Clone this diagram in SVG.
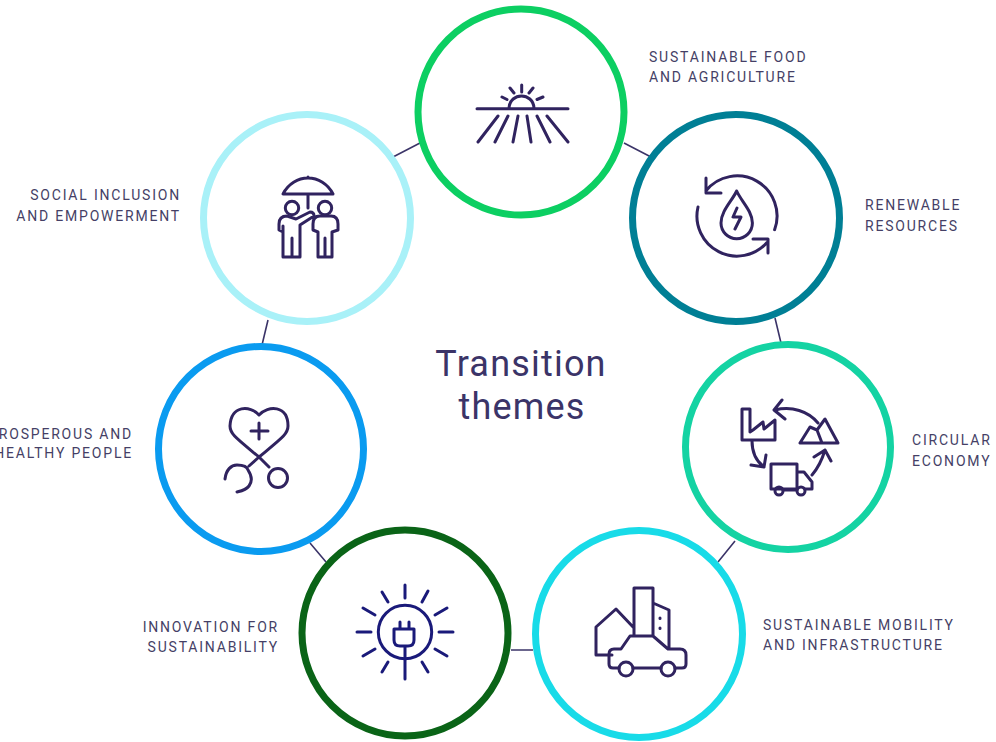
<svg xmlns="http://www.w3.org/2000/svg" width="996" height="742" viewBox="0 0 996 742">
<style>
.ring{fill:#fff;stroke-width:7}
.ic{fill:none;stroke:#30235f;stroke-width:3;stroke-linecap:round;stroke-linejoin:round}
.lb{font-family:"Roboto","Liberation Sans",sans-serif;font-size:14px;letter-spacing:1.8px;fill:#453f66}
.e{text-anchor:end}
.title{font-family:"Roboto","Liberation Sans",sans-serif;font-size:36px;letter-spacing:1.2px;fill:#3b3468;text-anchor:middle}
.conn{stroke:#3b3468;stroke-width:1.6;fill:none}
</style>
<rect width="996" height="742" fill="#fff"/>
<g id="connectors" class="conn">
<path d="M393,157L420,143M624,143L651,157M775,318L781,343M735,541L718,562M511,650L533,650M310,543L326,562M268,320L262,345"/>
</g>
<g id="food">
<circle class="ring" cx="521" cy="112" r="103" stroke="#0ccf62"/>
<path class="ic" d="M477,108.700H568M509,108C510,92 533,92 534,108M521.700,85V92M510,88L514,93M533,88L529,93M502,97L507,99.500M543,97L537,99.500M498,116L478,142M508,116L495,142M518,116L513,142M527,116L531,142M537,116L550,142M547,116L568,142"/>
<text class="lb" x="649" y="62">SUSTAINABLE FOOD</text>
<text class="lb" x="649" y="82">AND AGRICULTURE</text>
</g>
<g id="renewable">
<circle class="ring" cx="736" cy="218" r="103.500" stroke="#007f95"/>
<path class="ic" d="M774.600,229.700A40,40 0 0 0 706,190.700M706,178V193H721M698,207A40,40 0 0 0 767,242.500M753,239H768V253M736.700,191C732,201 721,211 721,223A15.700,15.700 0 0 0 752.400,223C752.400,211 741,201 736.700,191ZM737,208L733,217H741L735,229"/>
<text class="lb" x="865" y="210">RENEWABLE</text>
<text class="lb" x="865" y="231">RESOURCES</text>
</g>
<g id="circular">
<circle class="ring" cx="788" cy="447" r="102.500" stroke="#14d3a3"/>
<path class="ic" d="M750,409H742V440H775V420L764,429L763,422L753,430L750,432V409M818,423C808,411 792,406 775,410M782,400L774,410L785,419M752,441C752,452 756,461 764,467M751,465L764,467L766,455M812,475C818,468 822,460 825,450M814,457L825,450L831,461M800,443H838L825,419L817,430L810,427ZM817,430L822,443M797,489H771V464H797V489M797,472H804L812,482V489H805M783,490H797"/>
<circle class="ic" cx="779" cy="491" r="4"/>
<circle class="ic" cx="801" cy="491" r="4"/>
<text class="lb" x="912" y="445">CIRCULAR</text>
<text class="lb" x="912" y="466">ECONOMY</text>
</g>
<g id="mobility">
<circle class="ring" cx="639" cy="634" r="103.500" stroke="#18dbe8"/>
<path class="ic" d="M634,635V588H653V635M653,603L669,610V648M660,618V618.500M660,628V628.500M634,628L616,609L596,627V655H612M619,668H613Q609,668 609,664V654Q609,649 614,649H621L630,636H653L668,649H680Q686,649 686,655V664Q686,668 682,668H675M633,668H661"/>
<circle class="ic" cx="626" cy="669" r="7"/>
<circle class="ic" cx="668" cy="669" r="7"/>
<text class="lb" x="763" y="630">SUSTAINABLE MOBILITY</text>
<text class="lb" x="763" y="650">AND INFRASTRUCTURE</text>
</g>
<g id="innovation">
<circle class="ring" cx="405" cy="633" r="103" stroke="#0a6417"/>
<g class="ic" style="stroke:#1a1a7a">
<circle cx="405" cy="632" r="26.700"/>
<path d="M405,585V598M439,632H453M357,632H371M382,592L388,602M428,591L422,602M363,608L375,615M447,608L435,615M363,656L375,649M447,656L435,649M382,672L388,662M428,672L422,662M394,629H414V640Q414,646 408,646H400Q394,646 394,640ZM400,622V629M409,622V629M405,646V679"/>
</g>
<text class="lb e" x="279" y="632">INNOVATION FOR</text>
<text class="lb e" x="279" y="652">SUSTAINABILITY</text>
</g>
<g id="prosperous">
<circle class="ring" cx="261" cy="449" r="102.500" stroke="#0a9bf0"/>
<path class="ic" d="M259,415C250,405 231,405 230,426C230,434 236,438 259,457L269,467M259,415C268,405 288,405 288,426C288,434 282,438 259,457L249,466M259,423V439M251,431H268M225,479C226,470 231,465 237,465C243,465 247,466 248,470C252,476 252,482 249,486C246,490 241,491 237,492"/>
<circle class="ic" cx="278" cy="478" r="9.500"/>
<text class="lb e" x="133" y="439">PROSPEROUS AND</text>
<text class="lb e" x="133" y="458">HEALTHY PEOPLE</text>
</g>
<g id="social">
<circle class="ring" cx="307" cy="218" r="103.500" stroke="#a9f1f8"/>
<path class="ic" d="M283,194H333C328,184 318,178 308,178C298,178 288,184 283,194ZM308,177V178M308,194V208"/>
<circle class="ic" cx="292" cy="208" r="6.700"/>
<circle class="ic" cx="325" cy="208" r="6.700"/>
<path class="ic" d="M283,257V232L279,230V224Q279,216 287,216L296,219L310,212Q314,212 314,216L300,225V257H283M292,238V257M283,226V232M318,257V232L313,230V224Q313,216 320,216H331Q338,216 338,224V230L332,232V257H318M325,238V257"/>
<text class="lb e" x="181" y="200">SOCIAL INCLUSION</text>
<text class="lb e" x="181" y="221">AND EMPOWERMENT</text>
</g>
<g id="center">
<text class="title" x="521" y="376">Transition</text>
<text class="title" x="522" y="419">themes</text>
</g>
</svg>
